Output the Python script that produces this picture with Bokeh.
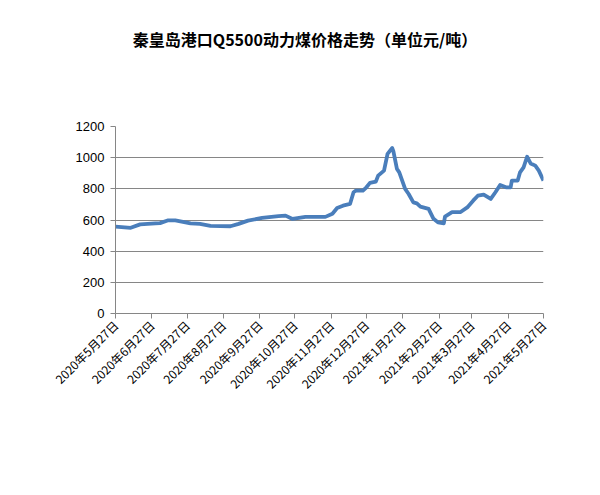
import math
from bokeh.plotting import figure
from bokeh.models import FixedTicker, Range1d, Div
from bokeh.layouts import column
from bokeh.embed import file_html
from bokeh.resources import INLINE

# days since 2020-05-27 and price (元/吨)
days = [0, 13, 21, 34, 38, 45, 51, 64, 72, 81, 98, 105, 113, 125, 139, 145, 151, 162,
        179, 185, 189, 194, 200, 203, 205, 211, 214, 217, 222, 224, 229, 232, 236, 237,
        240, 242, 247, 250, 254, 257, 260, 267, 271, 275, 280, 281, 287, 294, 300, 305,
        309, 314, 320, 324, 328, 333, 337, 338, 343, 345, 348, 351, 354, 358, 361, 365]
price = [558, 550, 572, 578, 580, 598, 597, 578, 575, 562, 560, 575, 596, 613, 625, 628, 607, 620,
         620, 640, 677, 692, 703, 778, 788, 788, 810, 838, 846, 885, 917, 1024, 1062, 1040,
         928, 906, 800, 767, 713, 707, 686, 671, 610, 585, 579, 622, 650, 650, 681, 724,
         756, 763, 735, 778, 825, 810, 810, 853, 853, 906, 938, 1006, 963, 949, 917, 853]

tick_days = [0, 31, 61, 92, 123, 153, 184, 214, 245, 276, 304, 335, 365]
tick_labels = ["2020年5月27日", "2020年6月27日", "2020年7月27日", "2020年8月27日",
               "2020年9月27日", "2020年10月27日", "2020年11月27日", "2020年12月27日",
               "2021年1月27日", "2021年2月27日", "2021年3月27日", "2021年4月27日",
               "2021年5月27日"]
y_ticks = [0, 200, 400, 600, 800, 1000, 1200]

title_text = "秦皇岛港口Q5500动力煤价格走势（单位元/吨）"

W = 592
TITLE_H = 60
title = Div(text=title_text, width=W, height=TITLE_H, margin=0,
            styles={"font-family": "'Noto Sans CJK SC'", "font-size": "16px",
                    "font-weight": "bold", "color": "black", "text-align": "center",
                    "line-height": "22px", "padding-top": "28px", "text-indent": "18px",
                    "box-sizing": "border-box"})

p = figure(width=W, height=487 - TITLE_H, output_backend="svg", toolbar_location=None,
           x_range=Range1d(0, 365), y_range=Range1d(0, 1200),
           min_border_left=115, min_border_right=49, min_border_top=126 - TITLE_H,
           min_border_bottom=174, outline_line_color=None, margin=0)

p.line(days, price, line_color="#4a7ebb", line_width=3.8, line_join="round")

gray = "#868686"
font = "Noto Sans CJK SC"

p.xaxis.ticker = FixedTicker(ticks=tick_days)
p.xaxis.major_label_overrides = {d: l for d, l in zip(tick_days, tick_labels)}
p.xaxis.major_label_orientation = math.pi / 4
p.xaxis.axis_line_color = gray
p.xaxis.major_tick_line_color = gray
p.xaxis.major_tick_out = 5
p.xaxis.major_tick_in = 0
p.xaxis.minor_tick_line_color = None
p.xaxis.major_label_text_font = font
p.xaxis.major_label_text_font_size = "12px"
p.xaxis.major_label_text_color = "black"
p.xaxis.major_label_standoff = 4

p.yaxis.ticker = FixedTicker(ticks=y_ticks)
p.yaxis.axis_line_color = gray
p.yaxis.major_tick_line_color = gray
p.yaxis.major_tick_out = 5
p.yaxis.major_tick_in = 0
p.yaxis.minor_tick_line_color = None
p.yaxis.major_label_text_font = "Liberation Sans"
p.yaxis.major_label_text_font_size = "13px"
p.yaxis.major_label_text_color = "black"
p.yaxis.major_label_standoff = 6

p.xgrid.grid_line_color = None
p.ygrid.ticker = FixedTicker(ticks=y_ticks)
p.ygrid.grid_line_color = gray
p.ygrid.grid_line_width = 1

layout = column(title, p, spacing=0)
open("out.html", "w").write(file_html(layout, INLINE))
